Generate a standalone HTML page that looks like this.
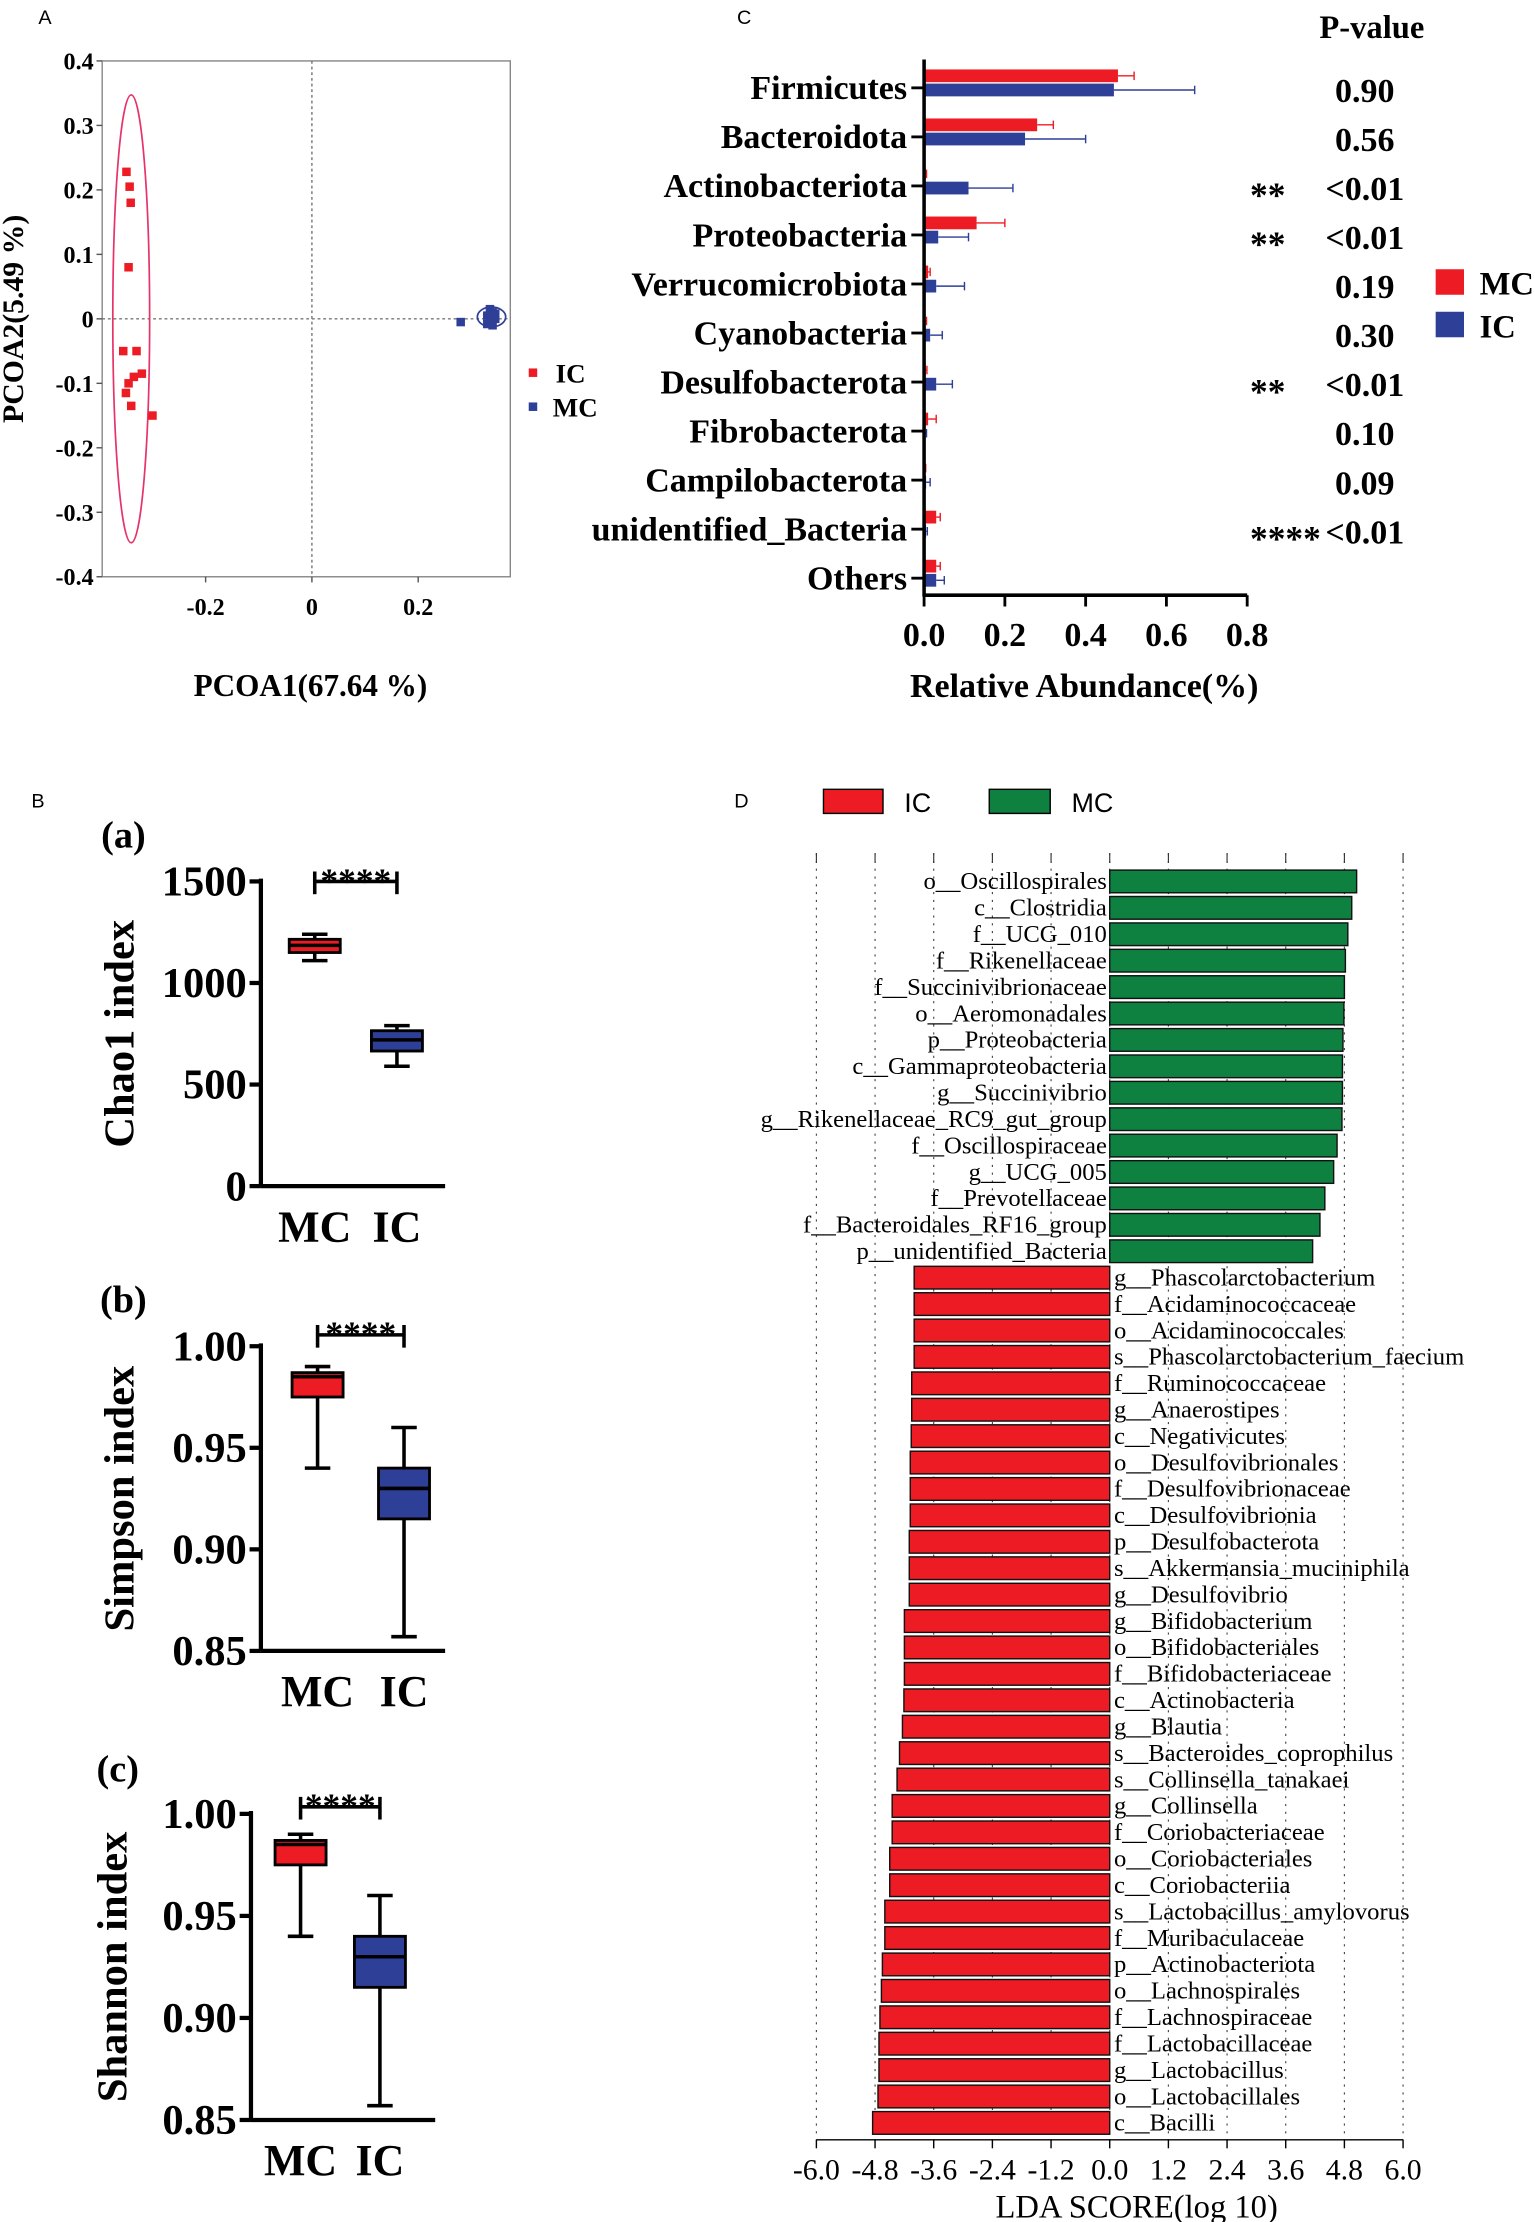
<!DOCTYPE html>
<html><head><meta charset="utf-8"><style>
html,body{margin:0;padding:0;background:#fff;}
svg{display:block;}
.s{font-family:"Liberation Serif",serif;}
.b{font-family:"Liberation Serif",serif;font-weight:bold;}
.a{font-family:"Liberation Sans",sans-serif;}
</style></head><body>
<svg id="fig" width="1535" height="2222" viewBox="0 0 1083 1568" xmlns="http://www.w3.org/2000/svg">
<g id="A"></g>
<g id="C"></g>
<g id="B"></g>
<g id="D"></g>
</svg>
<script>
// ---------- Data ----------
const icPoints = [[-0.349,0.228],[-0.343,0.205],[-0.341,0.18],[-0.345,0.08],[-0.355,-0.05],[-0.33,-0.05],[-0.345,-0.1],[-0.335,-0.09],[-0.32,-0.085],[-0.34,-0.135],[-0.3,-0.15],[-0.35,-0.115]];
const mcPoints = [[0.28,-0.005],[0.33,0.005],[0.335,-0.005],[0.34,0.01],[0.345,0.0],[0.335,0.015],[0.34,-0.01],[0.33,-0.008],[0.345,0.008],[0.338,0.002]];
const phyla = ["Firmicutes","Bacteroidota","Actinobacteriota","Proteobacteria","Verrucomicrobiota","Cyanobacteria","Desulfobacterota","Fibrobacterota","Campilobacterota","unidentified_Bacteria","Others"];
const mcAbund = [0.48,0.28,0.004,0.13,0.01,0.003,0.004,0.01,0.002,0.03,0.03];
const mcErr = [0.04,0.04,0.002,0.07,0.005,0.003,0.003,0.02,0.002,0.01,0.01];
const icAbund = [0.47,0.25,0.11,0.035,0.03,0.015,0.03,0.003,0.005,0.005,0.03];
const icErr = [0.2,0.15,0.11,0.075,0.07,0.03,0.04,0.003,0.01,0.003,0.02];
const pStars = ["","","**","**","","","**","","","****",""];
const pVals = ["0.90","0.56","<0.01","<0.01","0.19","0.30","<0.01","0.10","0.09","<0.01",""];
const abundTicks = [0,0.2,0.4,0.6,0.8];
const chaoMC = [1110,1150,1185,1215,1240];
const chaoIC = [590,665,720,765,790];
const simpMC = [0.94,0.975,0.985,0.987,0.99];
const simpIC = [0.857,0.915,0.93,0.94,0.96];
const shanMC = [0.94,0.975,0.985,0.987,0.99];
const shanIC = [0.857,0.915,0.93,0.94,0.96];
const ldaNames = ["o__Oscillospirales","c__Clostridia","f__UCG_010","f__Rikenellaceae","f__Succinivibrionaceae","o__Aeromonadales","p__Proteobacteria","c__Gammaproteobacteria","g__Succinivibrio","g__Rikenellaceae_RC9_gut_group","f__Oscillospiraceae","g__UCG_005","f__Prevotellaceae","f__Bacteroidales_RF16_group","p__unidentified_Bacteria","g__Phascolarctobacterium","f__Acidaminococcaceae","o__Acidaminococcales","s__Phascolarctobacterium_faecium","f__Ruminococcaceae","g__Anaerostipes","c__Negativicutes","o__Desulfovibrionales","f__Desulfovibrionaceae","c__Desulfovibrionia","p__Desulfobacterota","s__Akkermansia_muciniphila","g__Desulfovibrio","g__Bifidobacterium","o__Bifidobacteriales","f__Bifidobacteriaceae","c__Actinobacteria","g__Blautia","s__Bacteroides_coprophilus","s__Collinsella_tanakaei","g__Collinsella","f__Coriobacteriaceae","o__Coriobacteriales","c__Coriobacteriia","s__Lactobacillus_amylovorus","f__Muribaculaceae","p__Actinobacteriota","o__Lachnospirales","f__Lachnospiraceae","f__Lactobacillaceae","g__Lactobacillus","o__Lactobacillales","c__Bacilli"];
const ldaScores = [5.05,4.95,4.87,4.82,4.8,4.79,4.77,4.76,4.76,4.75,4.65,4.58,4.4,4.3,4.15,-4.0,-4.0,-4.0,-4.0,-4.05,-4.05,-4.06,-4.08,-4.08,-4.08,-4.1,-4.1,-4.1,-4.2,-4.2,-4.2,-4.21,-4.24,-4.3,-4.35,-4.45,-4.45,-4.5,-4.5,-4.6,-4.6,-4.65,-4.67,-4.7,-4.72,-4.72,-4.74,-4.85];
const ldaTicks = [-6,-4.8,-3.6,-2.4,-1.2,0,1.2,2.4,3.6,4.8,6];

const NS="http://www.w3.org/2000/svg";
function el(p,t,a,txt){const e=document.createElementNS(NS,t);for(const k in a)e.setAttribute(k,a[k]);if(txt!==undefined)e.textContent=txt;p.appendChild(e);return e;}
const RED="#ed1c24",BLUE="#2e3f97",GREEN="#0e8140";

// ---------- Panel A ----------
(function(){
const g=document.getElementById('A');
const sx=v=>220+v*375, sy=v=>225-v*455;
let t=el(g,'text',{x:27,y:17,class:'a','font-size':14},'A');

let r=el(g,'rect',{x:72,y:43,width:288,height:364,fill:'none',stroke:'#888','stroke-width':1});

el(g,'line',{x1:220,y1:43,x2:220,y2:407,stroke:'#777','stroke-dasharray':'2,2'});
el(g,'line',{x1:72,y1:225,x2:360,y2:225,stroke:'#777','stroke-dasharray':'2,2'});
[0.4,0.3,0.2,0.1,0,-0.1,-0.2,-0.3,-0.4].forEach(v=>{
 el(g,'line',{x1:68,y1:sy(v),x2:72,y2:sy(v),stroke:'#555'});
 let l=el(g,'text',{x:66,y:sy(v)+6,'text-anchor':'end',class:'b','font-size':17},v===0?'0':v.toFixed(1));
 
});
[-0.2,0,0.2].forEach(v=>{
 el(g,'line',{x1:sx(v),y1:407,x2:sx(v),y2:411,stroke:'#555'});
 let l=el(g,'text',{x:sx(v),y:434,'text-anchor':'middle',class:'b','font-size':17},v===0?'0':v.toFixed(1));
 
});
el(g,'ellipse',{cx:sx(-0.34),cy:sy(0),rx:13,ry:158,fill:'none',stroke:'#e6336a','stroke-width':1.2});
el(g,'ellipse',{cx:sx(0.338),cy:sy(0.003),rx:10,ry:7,fill:'none',stroke:BLUE,'stroke-width':1.2});
icPoints.forEach(p=>{let m=el(g,'rect',{x:sx(p[0])-3,y:sy(p[1])-3,width:6,height:6,fill:RED});});
mcPoints.forEach(p=>{let m=el(g,'rect',{x:sx(p[0])-3,y:sy(p[1])-3,width:6,height:6,fill:BLUE});});
el(g,'rect',{x:373,y:260,width:6,height:6,fill:RED});
let l1=el(g,'text',{x:392,y:270,class:'b','font-size':19},'IC');
el(g,'rect',{x:373,y:284,width:6,height:6,fill:BLUE});
let l2=el(g,'text',{x:390,y:294,class:'b','font-size':19},'MC');
let yt=el(g,'text',{x:16,y:225,class:'b','font-size':21,'text-anchor':'middle',transform:'rotate(-90 16 225)'},'PCOA2(5.49 %)');

let xt=el(g,'text',{x:219,y:491,class:'b','font-size':22,'text-anchor':'middle'},'PCOA1(67.64 %)');

})();

// ---------- Panel C ----------
(function(){
const g=document.getElementById('C');
const x0=652, sx=v=>x0+v*285, yc=i=>62+i*34.6;
let t=el(g,'text',{x:520,y:17,class:'a','font-size':14},'C');

let h=el(g,'text',{x:968,y:27,class:'b','font-size':23,'text-anchor':'middle'},'P-value');

phyla.forEach((n,i)=>{
 const y=yc(i);
 let l=el(g,'text',{x:640,y:y+8,class:'b','font-size':24,'text-anchor':'end'},n);
 
 el(g,'line',{x1:643,y1:y,x2:652,y2:y,stroke:'#000','stroke-width':2});
 let b1=el(g,'rect',{x:x0,y:y-13,width:Math.max(0.6,sx(mcAbund[i])-x0),height:9,fill:RED});
 
 el(g,'line',{x1:sx(mcAbund[i]),y1:y-8.5,x2:sx(mcAbund[i]+mcErr[i]),y2:y-8.5,stroke:RED,'stroke-width':1});
 el(g,'line',{x1:sx(mcAbund[i]+mcErr[i]),y1:y-11.5,x2:sx(mcAbund[i]+mcErr[i]),y2:y-5.5,stroke:RED,'stroke-width':1});
 let b2=el(g,'rect',{x:x0,y:y-3,width:Math.max(0.6,sx(icAbund[i])-x0),height:9,fill:BLUE});
 
 el(g,'line',{x1:sx(icAbund[i]),y1:y+1.5,x2:sx(icAbund[i]+icErr[i]),y2:y+1.5,stroke:BLUE,'stroke-width':1});
 el(g,'line',{x1:sx(icAbund[i]+icErr[i]),y1:y-1.5,x2:sx(icAbund[i]+icErr[i]),y2:y+4.5,stroke:BLUE,'stroke-width':1});
 if(pStars[i]){let s=el(g,'text',{x:882,y:y+15,class:'b','font-size':25},pStars[i]);}
 if(pVals[i]){let p=el(g,'text',{x:963,y:y+10,class:'b','font-size':24,'text-anchor':'middle'},pVals[i]);}
});
el(g,'line',{x1:x0,y1:42,x2:x0,y2:421,stroke:'#000','stroke-width':2.5});
el(g,'line',{x1:x0,y1:420,x2:880,y2:420,stroke:'#000','stroke-width':2.5});
abundTicks.forEach(v=>{
 el(g,'line',{x1:sx(v),y1:420,x2:sx(v),y2:428,stroke:'#000','stroke-width':2});
 let l=el(g,'text',{x:sx(v),y:456,class:'b','font-size':24,'text-anchor':'middle'},v.toFixed(1));
 
});
let xt=el(g,'text',{x:765,y:492,class:'b','font-size':24,'text-anchor':'middle'},'Relative Abundance(%)');

el(g,'rect',{x:1013,y:190,width:20,height:18,fill:RED});
let m=el(g,'text',{x:1044,y:208,class:'b','font-size':23},'MC');
el(g,'rect',{x:1013,y:220,width:20,height:18,fill:BLUE});
let ic=el(g,'text',{x:1044,y:238,class:'b','font-size':23},'IC');
})();

// ---------- Panel B ----------
(function(){
const g=document.getElementById('B');
let t=el(g,'text',{x:22,y:570,class:'a','font-size':14},'B');

function box(cfg){
 const {axX,yTop,yBot,vTop,vBot,ticks,fmt,mc,ic,cMC,cIC,letter,lx,ly,title,tx,barY,name}=cfg;
 const sy=v=>yBot-(v-vBot)/(vTop-vBot)*(yBot-yTop);
 const gg=el(g,'g',{});
 let L=el(gg,'text',{x:lx,y:ly,class:'b','font-size':27,'text-anchor':'middle'},letter);
 
 el(gg,'line',{x1:axX,y1:yTop-2,x2:axX,y2:yBot,stroke:'#000','stroke-width':3});
 el(gg,'line',{x1:axX,y1:yBot,x2:axX+130,y2:yBot,stroke:'#000','stroke-width':3});
 ticks.forEach(v=>{
  el(gg,'line',{x1:axX-8,y1:sy(v),x2:axX,y2:sy(v),stroke:'#000','stroke-width':3});
  let l=el(gg,'text',{x:axX-10,y:sy(v)+10,class:'b','font-size':30,'text-anchor':'end'},fmt(v));
  
 });
 [[mc,cMC,RED,'box-mc'],[ic,cIC,BLUE,'box-ic']].forEach(([d,c,col,nm])=>{
  el(gg,'line',{x1:c,y1:sy(d[0]),x2:c,y2:sy(d[4]),stroke:'#000','stroke-width':2.5});
  el(gg,'line',{x1:c-9,y1:sy(d[0]),x2:c+9,y2:sy(d[0]),stroke:'#000','stroke-width':2.5});
  el(gg,'line',{x1:c-9,y1:sy(d[4]),x2:c+9,y2:sy(d[4]),stroke:'#000','stroke-width':2.5});
  let b=el(gg,'rect',{x:c-18,y:sy(d[3]),width:36,height:sy(d[1])-sy(d[3]),fill:col,stroke:'#000','stroke-width':2});
  
  el(gg,'line',{x1:c-18,y1:sy(d[2]),x2:c+18,y2:sy(d[2]),stroke:'#000','stroke-width':2.5});
 });
 el(gg,'line',{x1:cMC,y1:barY,x2:cIC,y2:barY,stroke:'#000','stroke-width':2.5});
 el(gg,'line',{x1:cMC,y1:barY-7,x2:cMC,y2:barY+9,stroke:'#000','stroke-width':2.5});
 el(gg,'line',{x1:cIC,y1:barY-7,x2:cIC,y2:barY+9,stroke:'#000','stroke-width':2.5});
 let s=el(gg,'text',{x:(cMC+cIC)/2,y:barY+8,class:'b','font-size':25,'text-anchor':'middle'},'****');
 
 [['MC',cMC],['IC',cIC]].forEach(([n,c])=>{let l=el(gg,'text',{x:c,y:yBot+39,class:'b','font-size':31,'text-anchor':'middle'},n);});
 let T=el(gg,'text',{x:tx,y:(yTop+yBot)/2,class:'b','font-size':30,'text-anchor':'middle',transform:`rotate(-90 ${tx} ${(yTop+yBot)/2})`},title);
 
}
box({name:'chao1-plot',axX:184,yTop:622,yBot:837,vTop:1500,vBot:0,ticks:[0,500,1000,1500],fmt:v=>String(v),mc:chaoMC,ic:chaoIC,cMC:222,cIC:280,letter:'(a)',lx:87,ly:598,title:'Chao1 index',tx:94,barY:622});
box({name:'simpson-plot',axX:184,yTop:950,yBot:1165,vTop:1.0,vBot:0.85,ticks:[0.85,0.9,0.95,1.0],fmt:v=>v.toFixed(2),mc:simpMC,ic:simpIC,cMC:224,cIC:285,letter:'(b)',lx:87,ly:926,title:'Simpson index',tx:94,barY:942});
box({name:'shannon-plot',axX:177,yTop:1280,yBot:1496,vTop:1.0,vBot:0.85,ticks:[0.85,0.9,0.95,1.0],fmt:v=>v.toFixed(2),mc:shanMC,ic:shanIC,cMC:212,cIC:268,letter:'(c)',lx:83,ly:1257,title:'Shannon index',tx:89,barY:1275});
})();

// ---------- Panel D ----------
(function(){
const g=document.getElementById('D');
const x0=783, sx=v=>x0+v*34.5, yc=i=>622+i*18.64;
let t=el(g,'text',{x:518,y:570,class:'a','font-size':14},'D');

el(g,'rect',{x:581,y:557,width:42,height:17,fill:RED,stroke:'#000','stroke-width':1});
let a=el(g,'text',{x:638,y:573,class:'a','font-size':19},'IC');
el(g,'rect',{x:698,y:557,width:43,height:17,fill:GREEN,stroke:'#000','stroke-width':1});
let b=el(g,'text',{x:756,y:573,class:'a','font-size':19},'MC');
ldaTicks.forEach(v=>{
 el(g,'line',{x1:sx(v),y1:602,x2:sx(v),y2:1510,stroke:'#444','stroke-width':0.8,'stroke-dasharray':'1.5,4'});
 el(g,'line',{x1:sx(v),y1:602,x2:sx(v),y2:609,stroke:'#333','stroke-width':0.8});
});
ldaScores.forEach((v,i)=>{
 const y=yc(i);
 const x=Math.min(sx(0),sx(v)), w=Math.abs(sx(v)-sx(0));
 let r=el(g,'rect',{x:x,y:y-8,width:w,height:16,fill:v>0?GREEN:RED,stroke:'#111','stroke-width':1});
 
 let l=el(g,'text',{x:v>0?781:786,y:y+5.5,class:'s','font-size':17.4,'text-anchor':v>0?'end':'start'},ldaNames[i]);
 
});
ldaTicks.forEach(v=>{
 el(g,'line',{x1:sx(v),y1:1510,x2:sx(v),y2:1516,stroke:'#000','stroke-width':1});
 let l=el(g,'text',{x:sx(v),y:1538,class:'s','font-size':21,'text-anchor':'middle'},v.toFixed(1));
 
});
el(g,'line',{x1:sx(-6),y1:1510,x2:sx(6),y2:1510,stroke:'#000','stroke-width':1});
let xt=el(g,'text',{x:802,y:1565,class:'s','font-size':23,'text-anchor':'middle'},'LDA SCORE(log 10)');

})();
</script>
</body></html>
